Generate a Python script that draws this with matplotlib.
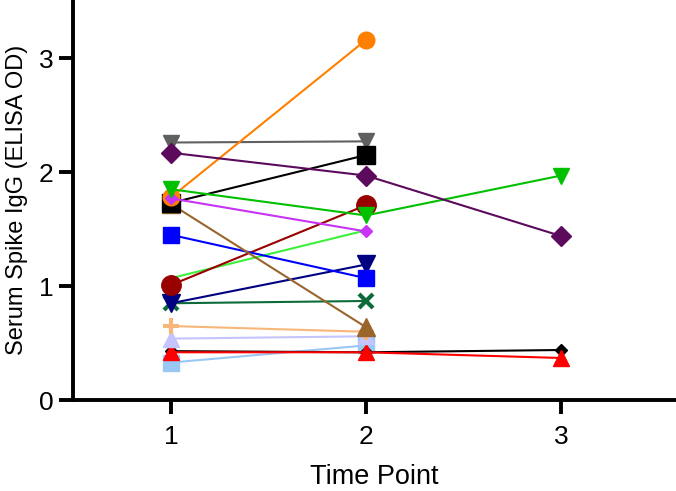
import matplotlib
matplotlib.use("Agg")
import matplotlib.pyplot as plt

plt.rcParams['font.family'] = ['Liberation Sans', 'DejaVu Sans']

time_points = [1, 2, 3]
tick_labels = ["1", "2", "3"]
y_ticks = [0, 1, 2, 3]

# series values (per subject), drawn in this order
light_blue   = [0.33, 0.48]
black_small  = [0.43, 0.42, 0.44]
red          = [0.42, 0.42, 0.37]
lavender     = [0.54, 0.56]
light_orange = [0.65, 0.60]
dark_green   = [0.85, 0.87]
navy         = [0.85, 1.19]
light_green  = [1.07, 1.49]
dark_red     = [1.01, 1.71]
blue         = [1.45, 1.07]
brown        = [1.72, 0.64]
gray         = [2.26, 2.27]
black_sq     = [1.73, 2.15]
orange       = [1.78, 3.16]
violet       = [1.77, 1.48]
green        = [1.85, 1.62, 1.97]
purple       = [2.17, 1.97, 1.44]

series = [
    (light_blue,   '#99c8f5', 's', 11, 1.0),
    (black_small,  '#000000', 'D', 6, 1.0),
    (red,          '#ff0000', '^', 11, 1.0),
    (lavender,     '#c4c4ff', '^', 11, 1.0),
    (light_orange, '#f7b77a', 'P', 0, 0),
    (dark_green,   '#0b6b3a', 'x', 10, 3.0),
    (navy,         '#000080', 'v', 13, 1.0),
    (light_green,  '#3cf03c', None, 0, 0),
    (dark_red,     '#990000', 'o', 14, 1.0),
    (blue,         '#0000ff', 's', 11, 1.0),
    (brown,        '#99652a', '^', 13, 1.0),
    (gray,         '#606060', 'v', 12, 1.0),
    (black_sq,     '#000000', 's', 13, 1.0),
    (orange,       '#ff8000', 'o', 12, 1.0),
    (violet,       '#c833f5', 'D', 6.5, 1.0),
    (green,        '#00c000', 'v', 12, 1.0),
    (purple,       '#5c0a5c', 'D', 10.5, 1.0),
]

fig = plt.figure(figsize=(6.76, 4.91), dpi=100)
ax = fig.add_axes([0.108, 0.185, 0.892, 0.815])

for vals, col, mk, ms, mew in series:
    xs = time_points[:len(vals)]
    if mk == 'P':
        ax.plot(xs, vals, color=col, lw=1.5, marker='+', ms=11, mew=3)
    elif mk is None:
        ax.plot(xs, vals, color=col, lw=1.5)
    elif mk == 'x':
        ax.plot(xs, vals, color=col, lw=1.5, marker='x', ms=ms, mew=mew)
    else:
        ax.plot(xs, vals, color=col, lw=1.5, marker=mk, ms=ms, mew=mew,
                mec=col, mfc=col)

ax.set_xlim(0.497, 3.59)
ax.set_ylim(0, 3.51)
ax.set_xticks(time_points)
ax.set_xticklabels(tick_labels)
ax.set_yticks(y_ticks)
ax.spines['top'].set_visible(False)
ax.spines['right'].set_visible(False)
for s in ['left', 'bottom']:
    ax.spines[s].set_linewidth(2.8)
ax.tick_params(axis='both', width=2.8, length=10, labelsize=19, pad=4)
ax.tick_params(axis='x', pad=8)
ax.set_xlabel('Time Point', fontsize=19.5, labelpad=11)
ax.set_ylabel('Serum Spike IgG (ELISA OD)', fontsize=17, labelpad=8)

fig.savefig('out.png', dpi=100)
